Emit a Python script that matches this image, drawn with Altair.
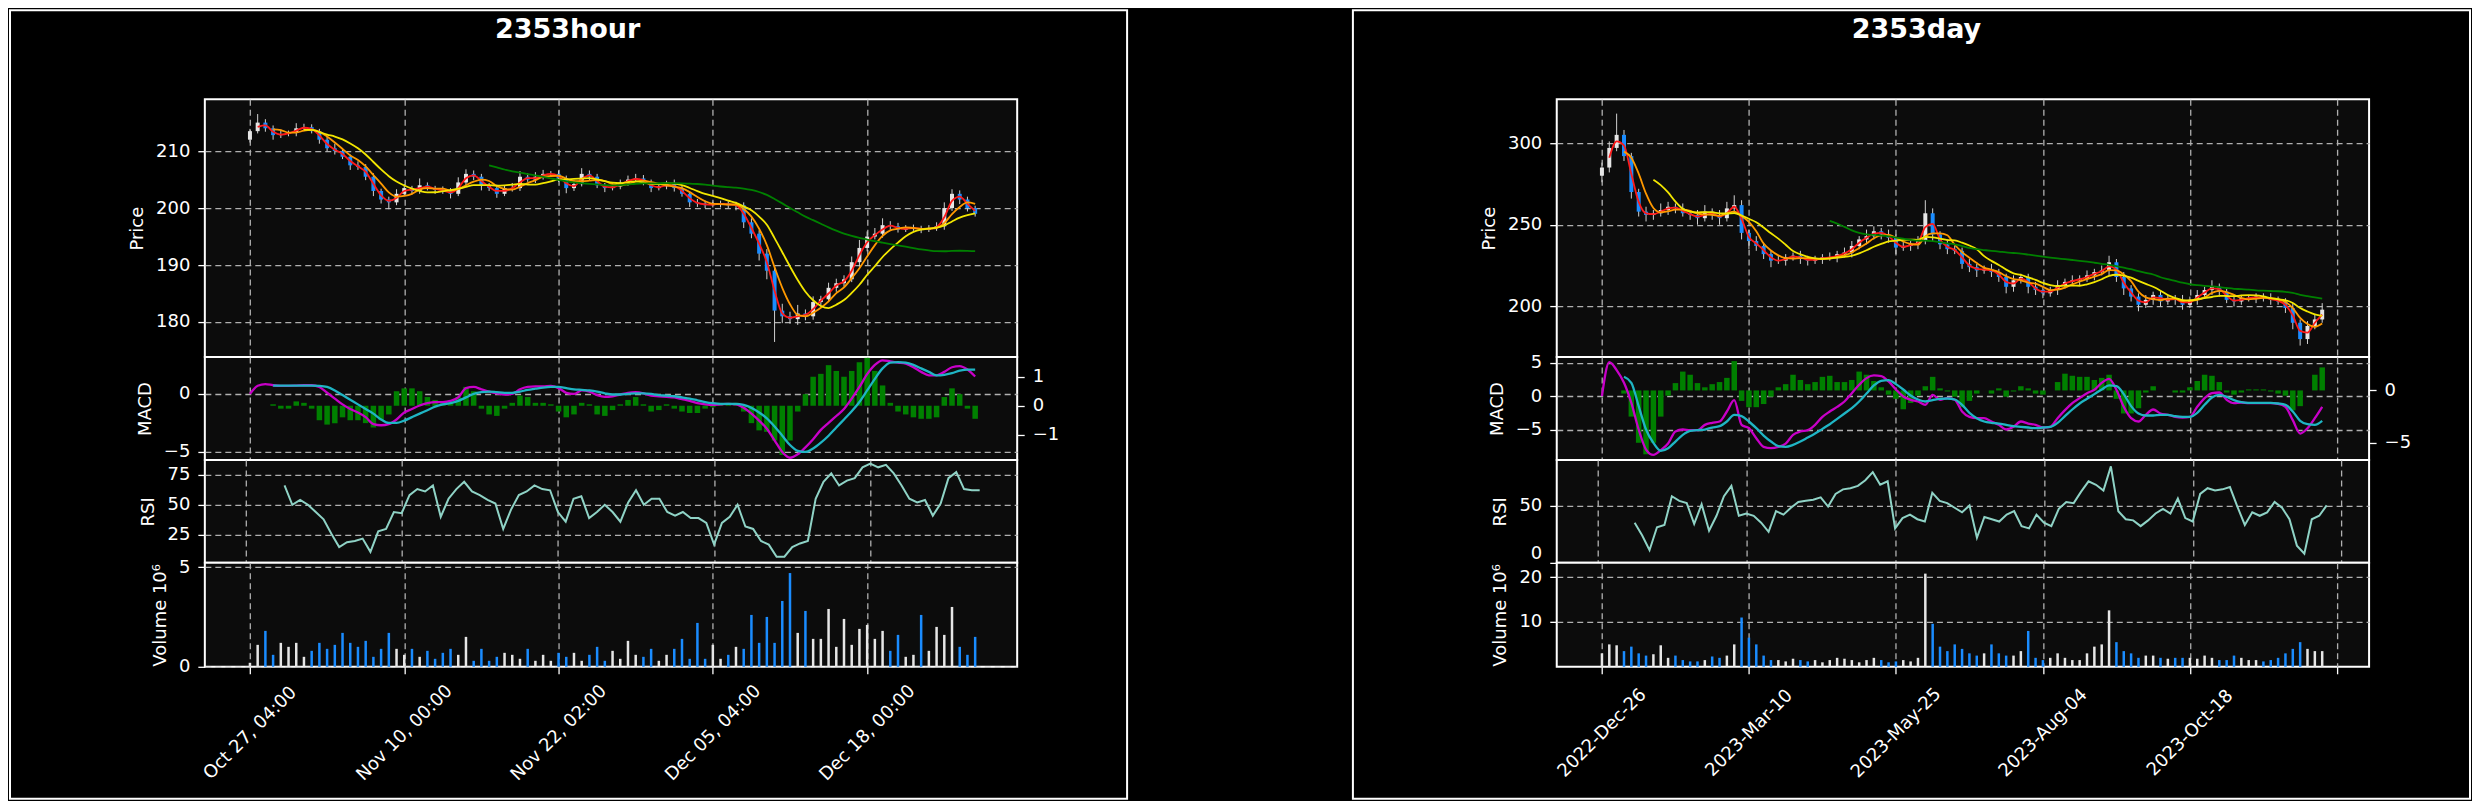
import altair as alt
import numpy as np
import pandas as pd

FONT = "DejaVu Sans"
PLOT_BG = "#0c0c0c"
GRID = "#b0b0b0"
UP = "#e6e6e6"
DOWN = "#1a8cff"
WICK = "#d2d2d2"
MA_WINDOWS = [2, 4, 8, 32]
MA_COLORS = ["#ff1a1a", "#ff9900", "#f2e600", "#008000"]
MACD_C = "#c800c8"
SIG_C = "#1fb5c4"
HIST_C = "#008000"
RSI_C = "#8fd3c6"

fig_titles = ["2353hour", "2353day"]

# ---------------- hourly ----------------
h_tick_values = [0, 20, 40, 60, 80]
h_tick_labels = ["Oct 27, 04:00", "Nov 10, 00:00", "Nov 22, 02:00", "Dec 05, 04:00", "Dec 18, 00:00"]
h_first_open = 212.0
h_close = [213.5, 215.0, 214.0, 212.8, 213.0, 213.2, 214.0, 214.2, 213.5, 212.0,
           210.5, 210.0, 209.0, 207.5, 207.2, 205.5, 203.0, 201.5, 201.0, 202.5,
           203.5, 203.0, 204.0, 203.5, 203.2, 203.0, 202.5, 204.5, 206.0, 205.5,
           204.0, 203.5, 202.5, 203.5, 203.5, 205.5, 205.0, 205.5, 206.0, 206.0,
           205.2, 203.5, 204.2, 206.0, 205.5, 204.0, 203.5, 203.8, 204.5, 205.0,
           205.2, 204.5, 203.5, 203.8, 204.2, 203.5, 202.5, 201.0, 200.8, 200.5,
           200.7, 200.8, 200.5, 200.5, 197.5, 195.5, 192.0, 189.0, 182.0, 181.0,
           180.5, 181.5, 181.0, 183.5, 184.0, 186.0, 186.8, 187.5, 190.5, 193.0,
           195.0, 195.5, 197.0, 196.8, 196.2, 196.5, 196.5, 196.2, 196.5, 196.8,
           200.0, 202.5, 201.5, 200.0, 199.0]
h_up_wick = [0.4, 1.5, 0.6, 0.5, 0.8, 0.4, 0.9, 0.6, 0.5, 0.4, 0.6, 0.8, 0.5, 0.4, 0.7, 0.5, 0.6, 0.4, 0.5, 0.8,
             0.7, 0.4, 1.2, 0.5, 0.4, 0.6, 0.5, 0.9, 0.8, 0.6, 0.5, 0.4, 0.6, 0.5, 0.9, 1.0, 0.6, 0.8, 0.7, 0.5,
             0.6, 0.5, 0.7, 1.0, 0.6, 0.5, 0.4, 0.6, 0.5, 0.7, 0.8, 0.6, 0.5, 0.4, 0.6, 0.8, 0.5, 0.4, 0.6, 0.5,
             0.4, 0.5, 0.4, 0.6, 0.5, 0.7, 0.6, 0.8, 0.9, 1.2, 0.8, 1.5, 0.7, 1.0, 0.6, 0.9, 0.8, 0.7, 1.0, 1.4,
             0.9, 1.0, 1.2, 0.7, 0.6, 0.5, 0.6, 0.4, 0.5, 0.7, 1.0, 0.8, 0.6, 0.5, 0.4]
h_dn_wick = [0.5, 0.4, 0.6, 0.8, 0.5, 0.4, 0.6, 0.5, 0.4, 0.7, 0.5, 0.6, 0.4, 0.8, 0.5, 0.6, 0.9, 0.7, 1.2, 0.5,
             0.4, 0.6, 0.5, 0.4, 0.7, 0.5, 0.8, 0.4, 0.5, 0.6, 0.9, 0.5, 0.7, 0.4, 0.6, 0.5, 0.4, 0.6, 0.5, 0.4,
             0.6, 0.9, 0.5, 0.4, 0.6, 0.5, 0.7, 0.4, 0.5, 0.6, 0.4, 0.5, 0.7, 0.4, 0.5, 0.6, 0.5, 0.8, 0.6, 0.5,
             0.4, 0.6, 0.5, 0.9, 1.0, 0.8, 1.2, 1.5, 5.5, 1.2, 0.8, 1.0, 0.7, 0.6, 0.8, 0.5, 0.7, 0.6, 0.5, 0.8,
             0.6, 0.5, 0.7, 0.6, 0.5, 0.4, 0.5, 0.6, 0.4, 0.5, 0.6, 0.5, 0.8, 0.6, 0.5]
h_volume = [0.2, 1.1, 1.8, 0.6, 1.2, 1.0, 1.2, 0.5, 0.8, 1.2, 0.9, 1.1, 1.7, 1.2, 1.0, 1.3, 0.5, 0.9, 1.7, 0.9,
            0.6, 0.9, 0.5, 0.8, 0.4, 0.7, 0.9, 0.6, 1.5, 0.3, 0.9, 0.3, 0.5, 0.7, 0.6, 0.4, 0.9, 0.3, 0.6, 0.3,
            0.7, 0.5, 0.7, 0.3, 0.6, 1.0, 0.3, 0.8, 0.4, 1.3, 0.6, 0.5, 0.9, 0.3, 0.6, 0.9, 1.4, 0.4, 2.2, 0.4,
            1.1, 0.4, 0.6, 1.0, 0.9, 2.6, 1.2, 2.5, 1.2, 3.3, 4.7, 1.7, 2.8, 1.4, 1.4, 2.9, 1.0, 2.4, 1.1, 1.9,
            2.1, 1.4, 1.8, 0.8, 1.6, 0.5, 0.6, 2.6, 0.8, 2.0, 1.6, 3.0, 1.0, 0.6, 1.5]
h_macd = [0.0, 0.7, 0.85, 0.75, 0.7, 0.7, 0.72, 0.75, 0.75, 0.6,
          0.1, -0.4, -0.9, -1.3, -1.6, -2.0, -2.6, -2.7, -2.6, -2.2,
          -1.6, -1.3, -1.0, -0.8, -0.7, -0.7, -0.6, -0.3, 0.5, 0.6,
          0.4, 0.2, 0.05, -0.05, 0.0, 0.4, 0.6, 0.65, 0.65, 0.7,
          0.5, 0.1, 0.0, 0.3, 0.2, -0.1, -0.25, -0.2, -0.05, 0.1,
          0.15, 0.05, -0.15, -0.2, -0.25, -0.3, -0.45, -0.6, -0.8, -0.9,
          -0.95, -0.9, -0.85, -0.9, -1.2, -1.7, -2.3, -3.0, -4.0, -5.0,
          -5.5, -5.2, -4.6, -3.9, -3.1, -2.5, -1.9, -1.3, -0.4, 0.6,
          1.7, 2.5, 2.9, 2.8, 2.7, 2.6, 2.3, 1.9, 1.6, 1.6,
          1.9, 2.3, 2.4, 2.1, 1.5]
h_signal = [None, None, None, 0.72, 0.72, 0.72, 0.72, 0.72, 0.72, 0.7,
            0.6, 0.3, -0.1, -0.5, -0.9, -1.3, -1.7, -2.2, -2.5, -2.5,
            -2.3, -2.0, -1.7, -1.4, -1.1, -0.9, -0.8, -0.6, -0.3, 0.0,
            0.15, 0.2, 0.15, 0.1, 0.1, 0.2, 0.35, 0.45, 0.55, 0.6,
            0.6, 0.5, 0.4, 0.35, 0.3, 0.2, 0.05, -0.05, -0.05, 0.0,
            0.05, 0.05, 0.0, -0.1, -0.15, -0.2, -0.3, -0.4, -0.55, -0.7,
            -0.8, -0.85, -0.85, -0.85, -0.95, -1.2, -1.6, -2.1, -2.8, -3.6,
            -4.4, -4.9, -5.0, -4.7, -4.2, -3.6, -2.9, -2.2, -1.5, -0.7,
            0.3, 1.3, 2.2, 2.7, 2.75, 2.7, 2.5, 2.2, 1.9, 1.6,
            1.65, 1.8, 2.0, 2.1, 2.1]
h_hist = [None, None, None, 0.05, -0.1, -0.1, 0.15, 0.1, -0.1, -0.5,
          -0.65, -0.6, -0.4, -0.5, -0.5, -0.6, -0.75, -0.5, -0.3, 0.5,
          0.6, 0.6, 0.5, 0.3, 0.2, 0.1, 0.1, 0.3, 0.65, 0.5,
          -0.1, -0.3, -0.35, -0.1, 0.1, 0.35, 0.3, 0.1, 0.1, 0.05,
          -0.2, -0.4, -0.3, 0.1, 0.05, -0.3, -0.35, -0.15, 0.05, 0.2,
          0.3, 0.05, -0.2, -0.15, 0.05, -0.1, -0.2, -0.25, -0.25, -0.1,
          -0.05, 0.05, 0.1, 0.1, -0.2, -0.6, -0.85, -0.9, -1.2, -1.7,
          -1.2, -0.2, 0.4, 1.0, 1.1, 1.4, 1.2, 1.0, 1.2, 1.5,
          1.65, 1.2, 0.7, 0.1, -0.2, -0.3, -0.4, -0.45, -0.45, -0.4,
          0.3, 0.6, 0.4, -0.1, -0.45]
h_rsi = [None, None, None, None, None,
         66, 50, 54, 50, 44, 38, 26, 15, 19, 20, 22, 11, 28, 30, 44,
         43, 58, 63, 61, 66, 40, 55, 63, 69, 61, 58, 54, 51, 30, 46,
         58, 61, 66, 63, 62, 44, 36, 55, 57, 39, 44, 50, 44, 36, 52,
         62, 50, 55, 55, 44, 41, 44, 39, 39, 35, 17, 35, 40, 50, 32,
         30, 20, 17, 7, 7, 15, 18, 20, 55, 69, 76, 66, 70, 72, 81,
         84, 81, 83, 76, 66, 55, 52, 54, 41, 51, 72, 77, 63, 62, 62]

# ---------------- daily ----------------
d_tick_values = [0, 20, 40, 60, 80, 100]
d_tick_labels = ["2022-Dec-26", "2023-Mar-10", "2023-May-25", "2023-Aug-04", "2023-Oct-18", ""]
d_first_open = 280.0
d_close = [285, 297, 305, 292, 270, 258, 256, 257, 259, 261,
           260, 257, 256, 254, 258, 256, 254, 260, 262, 245,
           240, 237, 232, 228, 228, 230, 231, 229, 228, 229,
           230, 230, 232, 233, 237, 241, 243, 246, 244, 242,
           236, 237, 238, 240, 257, 244, 238, 235, 234, 226,
           224, 222, 223, 221, 218, 212, 216, 218, 212, 210,
           208, 210, 213, 215, 216, 217, 219, 221, 222, 227,
           218, 211, 206, 201, 204, 207, 203, 205, 204, 201,
           204, 207, 210, 212, 209, 204, 203, 205, 205, 206,
           205, 204, 203, 199, 190, 180, 188, 192, 198]
d_up_wick = [3, 4, 13, 3, 2, 2, 3, 2, 4, 3, 2, 3, 2, 3, 4, 2, 3, 4, 6, 3,
             2, 3, 2, 2, 3, 2, 2, 3, 2, 2, 2, 3, 2, 3, 3, 2, 4, 3, 2, 3,
             2, 3, 2, 3, 8, 3, 2, 3, 2, 2, 3, 2, 2, 3, 2, 2, 3, 2, 2, 3,
             2, 2, 3, 2, 3, 2, 3, 2, 3, 4, 2, 3, 2, 2, 3, 2, 3, 2, 2, 3,
             2, 3, 2, 4, 2, 2, 3, 2, 2, 2, 2, 3, 2, 2, 3, 2, 3, 3, 4]
d_dn_wick = [4, 3, 2, 3, 4, 3, 4, 3, 2, 3, 3, 2, 3, 4, 2, 3, 4, 2, 3, 4,
             5, 3, 3, 4, 2, 3, 2, 3, 3, 2, 3, 2, 3, 2, 3, 2, 3, 2, 3, 3,
             4, 2, 3, 3, 2, 4, 3, 3, 2, 3, 3, 4, 2, 3, 3, 4, 3, 2, 4, 3,
             3, 2, 3, 2, 2, 3, 2, 3, 2, 3, 3, 4, 3, 4, 2, 3, 3, 2, 3, 3,
             2, 3, 2, 3, 3, 2, 3, 2, 2, 3, 2, 3, 2, 3, 4, 4, 3, 2, 2]
d_volume = [3.0, 5.0, 4.8, 3.5, 4.5, 3.0, 2.5, 2.8, 4.8, 2.0, 2.5, 1.5, 1.2, 1.2, 1.5, 2.3, 2.0, 2.5, 5.0, 11.0,
            6.5, 5.0, 2.5, 1.5, 1.5, 1.2, 1.8, 1.5, 1.2, 1.5, 1.0, 1.5, 2.0, 1.8, 1.5, 1.0, 1.5, 2.0, 1.5, 1.0,
            1.2, 1.5, 1.2, 2.0, 20.8, 9.6, 4.5, 3.5, 5.0, 4.0, 3.0, 2.5, 3.0, 5.0, 3.0, 2.5, 2.5, 3.5, 8.0, 2.0,
            1.5, 2.0, 3.0, 2.0, 1.5, 1.5, 3.0, 4.5, 5.0, 12.6, 5.5, 3.5, 3.0, 2.0, 2.5, 2.5, 2.0, 1.8, 2.0, 2.0,
            2.0, 1.8, 2.5, 2.0, 1.5, 1.5, 2.5, 2.0, 1.5, 1.5, 1.2, 1.5, 2.0, 3.0, 4.0, 5.5, 4.0, 3.5, 3.5]
d_macd = [0.0, 5.1, 3.9, 2.0, -1.0, -5.0, -8.0, -8.8, -8.1, -7.1,
          -5.3, -5.0, -5.1, -5.1, -4.3, -4.0, -3.8, -2.3, -0.6, -4.3,
          -4.8, -6.3, -7.6, -7.8, -7.6, -7.1, -5.8, -5.3, -5.1, -4.3,
          -3.1, -2.3, -1.6, -0.8, 0.45, 1.7, 2.7, 3.1, 3.0, 2.2,
          1.0, -0.05, -0.55, -0.8, -1.3, 0.2, -0.55, -0.3, -0.55, -2.3,
          -3.1, -3.3, -3.3, -3.8, -4.3, -5.0, -4.6, -3.8, -4.1, -4.3,
          -4.7, -4.6, -3.3, -2.1, -1.05, -0.3, 0.45, 0.95, 2.0, 2.6,
          0.95, -1.6, -3.3, -3.8, -2.8, -2.0, -2.6, -2.8, -3.1, -3.2,
          -3.1, -1.6, -0.3, 0.45, 0.55, -0.55, -1.05, -0.95, -1.05, -1.05,
          -1.05, -1.05, -1.15, -1.6, -3.6, -5.6, -4.8, -3.3, -1.6]
d_signal = [None, None, None, 2.9, 2.0, -1.5, -5.0, -7.0, -8.2, -7.8,
            -6.8, -5.8, -5.2, -5.1, -5.0, -4.7, -4.5, -3.8, -2.8, -3.0,
            -3.8, -4.8, -5.9, -6.8, -7.5, -7.6, -7.3, -6.8, -6.2, -5.6,
            -4.9, -4.2, -3.4, -2.6, -1.8, -0.8, 0.4, 1.6, 2.3, 2.4,
            1.8, 1.0, 0.1, -0.5, -0.8, -0.6, -0.4, -0.35, -0.5, -1.3,
            -2.5, -3.3, -3.8, -4.0, -4.1, -4.3, -4.5, -4.6, -4.7, -4.8,
            -4.7, -4.6, -4.0, -3.0, -2.0, -1.1, -0.4, 0.3, 1.0, 1.6,
            1.5, 0.3, -1.5, -2.6, -2.9, -2.9, -2.8, -2.8, -3.0, -3.1,
            -3.1, -2.5, -1.3, -0.2, 0.2, -0.1, -0.6, -0.9, -1.0, -1.0,
            -1.0, -1.0, -1.1, -1.3, -2.3, -3.7, -4.2, -4.3, -3.7]
d_hist = [None, None, None, -0.3, -2.5, -5.0, -6.1, -5.0, -2.5, -0.5,
          0.7, 1.8, 1.5, 0.7, 0.3, 0.6, 0.8, 1.2, 2.8, -1.0,
          -1.6, -1.6, -1.3, -0.6, 0.3, 0.6, 1.5, 1.0, 0.6, 0.8,
          1.3, 1.4, 0.8, 0.8, 1.0, 1.8, 1.5, 0.9, 0.3, -0.4,
          -0.8, -1.8, -1.2, -0.5, 0.4, 1.3, 0.2, -0.1, -0.6, -1.6,
          -1.0, -0.3, 0.0, -0.3, 0.2, -0.6, -0.1, 0.4, 0.2, -0.3,
          -0.4, 0.0, 0.8, 1.6, 1.4, 1.3, 1.3, 1.0, 1.2, 1.5,
          -0.8, -2.2, -2.2, -1.7, -0.2, 0.4, 0.0, 0.0, -0.2, -0.2,
          0.3, 0.9, 1.5, 1.4, 0.8, -0.2, -0.4, -0.2, 0.1, 0.1,
          0.1, -0.1, -0.3, -0.5, -1.9, -1.5, 0.0, 1.5, 2.2]
d_rsi = [None, None, None, None, None,
         35, 24, 11, 31, 33, 58, 54, 52, 34, 51, 28, 41, 58, 67, 41,
         43, 41, 35, 27, 45, 42, 48, 53, 54, 55, 57, 49, 60, 64, 65,
         67, 72, 79, 68, 71, 30, 39, 42, 38, 36, 61, 54, 52, 48, 44,
         50, 22, 40, 38, 36, 42, 45, 32, 30, 42, 35, 32, 47, 53, 52,
         62, 71, 68, 63, 84, 45, 38, 37, 32, 37, 43, 47, 43, 56, 39,
         36, 60, 65, 63, 64, 66, 49, 33, 44, 41, 44, 53, 48, 38, 15,
         8, 38, 41, 50]


def make_frame(close, first_open, upw, dnw, vol, macd, sig, hist, rsi):
    df = pd.DataFrame({
        "close": close, "upw": upw, "dnw": dnw, "vol": vol,
        "macd": macd, "signal": sig, "hist": hist, "rsi": rsi,
    }).astype(float)
    df["i"] = np.arange(len(df))
    df["open"] = df["close"].shift(1)
    df.loc[0, "open"] = first_open
    df["high"] = np.maximum(df["open"], df["close"]) + df["upw"]
    df["low"] = np.minimum(df["open"], df["close"]) - df["dnw"]
    df["dir"] = np.where(df["close"] >= df["open"], "up", "down")
    for w in MA_WINDOWS:
        df[f"ma{w}"] = df["close"].rolling(w).mean()
    return df


def yaxis(values, title, orient="left", grid=True, flush=False):
    return alt.Axis(values=values, title=title, orient=orient, grid=grid,
                    gridDash=[6, 4], gridColor=GRID, gridWidth=1.3,
                    tickSize=7, tickWidth=1.3, labelPadding=8, titlePadding=9,
                    labelFlush=flush)


def xenc(dom, ticks, labels=None):
    if labels is None:
        axis = alt.Axis(values=ticks, labels=False, ticks=False, domain=False, grid=True,
                        gridDash=[6, 4], gridColor=GRID, gridWidth=1.3, title=None)
    else:
        expr = " : ".join(f"datum.value == {t} ? '{l}'" for t, l in zip(ticks, labels)) + " : ''"
        axis = alt.Axis(values=ticks, labelExpr=expr, labelAngle=315, labelAlign="center",
                        labelBaseline="middle", labelPadding=59, labelFontSize=18,
                        labelOverlap=False, labelFlush=False, labelBound=False,
                        tickSize=7, tickWidth=1.3, domain=False, grid=True,
                        gridDash=[6, 4], gridColor=GRID, gridWidth=1.3, title=None)
    return alt.X("i:Q", scale=alt.Scale(domain=dom, nice=False, zero=False), axis=axis)


def figure(df, title, ticks, labels, xdom, pdom, pvals, mdom, mvals, hdom, hvals,
           rdom, rvals, vdom, vvals, frame_x, title_x, bar, rsi_flush):
    W = 813
    xg = xenc(xdom, ticks)
    pscale = alt.Scale(domain=pdom, nice=False, zero=False)
    pax = yaxis(pvals, "Price")
    dircol = alt.Color("dir:N", scale=alt.Scale(domain=["up", "down"], range=[UP, DOWN]), legend=None)
    base = alt.Chart(df)
    wick = base.mark_rule(color=WICK, strokeWidth=1).encode(
        x=xg, y=alt.Y("low:Q", scale=pscale, axis=pax), y2="high:Q")
    body = base.mark_bar(size=bar).encode(
        x=xg, y=alt.Y("open:Q", scale=pscale, axis=pax), y2="close:Q", color=dircol)
    mas = [base.mark_line(color=c, strokeWidth=1.8, interpolate="monotone").encode(
        x=xg, y=alt.Y(f"ma{w}:Q", scale=pscale, axis=pax)) for w, c in zip(MA_WINDOWS, MA_COLORS)]
    one = alt.Chart(pd.DataFrame({"t": [title]}))
    frame = one.mark_rect(fill="transparent", stroke="white", strokeWidth=2).encode(
        x=alt.value(frame_x[0]), x2=alt.value(frame_x[1]), y=alt.value(-89), y2=alt.value(700))
    ttl = one.mark_text(font=FONT, fontSize=27, fontWeight="bold", color="white",
                        align="center", baseline="alphabetic").encode(
        x=alt.value(title_x), y=alt.value(-61), text="t:N")
    price = alt.layer(frame, wick, body, *mas, ttl).properties(width=W, height=258)

    hbar = base.mark_bar(size=bar + 1.5, color=HIST_C).encode(
        x=xg, y=alt.Y("hist:Q", scale=alt.Scale(domain=hdom, nice=False, zero=False),
                      axis=yaxis(hvals, None, orient="right", grid=False)),
        y2=alt.datum(0))
    mscale = alt.Scale(domain=mdom, nice=False, zero=False)
    max_ = yaxis(mvals, "MACD")
    mline = base.mark_line(color=MACD_C, strokeWidth=2.3, interpolate="monotone").encode(
        x=xg, y=alt.Y("macd:Q", scale=mscale, axis=max_))
    sline = base.mark_line(color=SIG_C, strokeWidth=2.3, interpolate="monotone").encode(
        x=xg, y=alt.Y("signal:Q", scale=mscale, axis=max_))
    lines = alt.layer(mline, sline)
    macd_panel = alt.layer(hbar, lines).resolve_scale(y="independent").properties(width=W, height=103)

    rsi_panel = base.mark_line(color=RSI_C, strokeWidth=2).encode(
        x=xg, y=alt.Y("rsi:Q", scale=alt.Scale(domain=rdom, nice=False, zero=False),
                      axis=yaxis(rvals, "RSI", flush=rsi_flush))).properties(width=W, height=103)

    xl = xenc(xdom, ticks, labels)
    vol_panel = base.mark_bar(size=bar - 1.5).encode(
        x=xl, y=alt.Y("vol:Q", stack=None, scale=alt.Scale(domain=vdom, nice=False, zero=False),
                      axis=yaxis(vvals, "Volume  10⁶")),
        y2=alt.datum(0),
        color=dircol,
    ).properties(width=W, height=104)
    return [price, macd_panel, rsi_panel, vol_panel]


hdf = make_frame(h_close, h_first_open, h_up_wick, h_dn_wick, h_volume, h_macd, h_signal, h_hist, h_rsi)
ddf = make_frame(d_close, d_first_open, d_up_wick, d_dn_wick, d_volume, d_macd, d_signal, d_hist, d_rsi)

left = figure(hdf, fig_titles[0], h_tick_values, h_tick_labels, [-5.2, 98.8],
              [173.85, 219.1], [180, 190, 200, 210], [-5.69, 3.18], [-5, 0],
              [-1.87, 1.68], [-1, 0, 1], [1.9, 87.1], [25, 50, 75], [0, 5.21], [0, 5],
              (-195, 923), 363, 4, False)
right = figure(ddf, fig_titles[1], d_tick_values, d_tick_labels, [-5.47, 103.7],
               [169, 326.8], [200, 250, 300], [-9.56, 5.86], [-5, 0, 5],
               [-6.64, 3.19], [-5, 0], [0, 89.6], [0, 50], [0, 23.2], [10, 20],
               (-204, 914), 360, 4, True)

panels = []
for a, b in zip(left, right):
    panels += [a, b]

chart = alt.concat(*panels, columns=2, spacing={"row": 0, "column": 540}, bounds="flush").properties(
    padding=0
).configure(background="black", font=FONT).configure_view(
    fill=PLOT_BG, stroke="white", strokeWidth=2
).configure_axis(
    labelColor="white", titleColor="white", labelFont=FONT, titleFont=FONT,
    labelFontSize=18, titleFontSize=18, titleFontWeight="normal",
    tickColor="white", domain=False
)

chart.save("out.html", embed_options={"renderer": "svg", "actions": False})
